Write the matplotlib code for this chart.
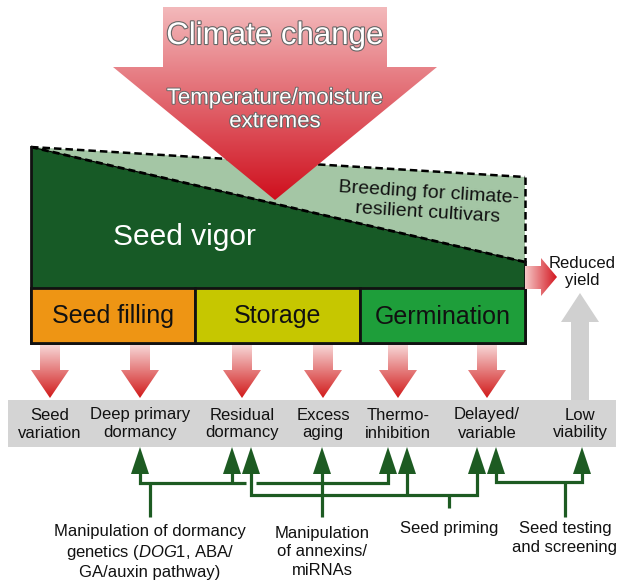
import numpy as np
import matplotlib
matplotlib.use("Agg")
import matplotlib.pyplot as plt
from matplotlib.patches import Polygon
from matplotlib.colors import to_rgba
import matplotlib.patheffects as pe

plt.rcParams['font.family'] = ['Liberation Sans', 'DejaVu Sans']
plt.rcParams['mathtext.fontset'] = 'custom'
plt.rcParams['mathtext.rm'] = 'Liberation Sans'
plt.rcParams['mathtext.it'] = 'Liberation Sans:italic'

# ---------------- content ----------------
title_main = "Climate change"
title_sub = "Temperature/moisture\nextremes"
vigor_label = "Seed vigor"
breeding_label = "Breeding for climate-\nresilient cultivars"
yield_label = "Reduced\nyield"
stages = ["Seed filling", "Storage", "Germination"]
stage_colors = ["#ee9514", "#c6c700", "#1e9e3a"]
outcomes = ["Seed\nvariation", "Deep primary\ndormancy", "Residual\ndormancy",
            "Excess\naging", "Thermo-\ninhibition", "Delayed/\nvariable", "Low\nviability"]
interventions = ["Manipulation of dormancy\ngenetics ($\\mathit{DOG1}$, ABA/\nGA/auxin pathway)",
                 "Manipulation\nof annexins/\nmiRNAs",
                 "Seed priming",
                 "Seed testing\nand screening"]

# ---------------- layout (pixels) ----------------
W, H = 627, 581
fig = plt.figure(figsize=(W / 100, H / 100), dpi=100)
ax = fig.add_axes([0, 0, 1, 1])

box_l, box_r = 31, 525
top_left_y, dash_right_y, green_right_y = 147, 177, 262
green_bot, stage_bot = 288, 343
stage_x = [31, 195, 360, 525]
outcome_x = [50, 140, 242, 323, 398, 487, 580]
band = (8, 616, 400, 447)

DARK = "#175a26"
LIGHT = "#a4c6a5"
LINE_G = "#1d5b22"


def grad_poly(verts, c0, c1, horizontal=False, z=3):
    poly = Polygon(verts, closed=True, facecolor='none', edgecolor='none', zorder=z)
    ax.add_patch(poly)
    xs = [v[0] for v in verts]
    ys = [v[1] for v in verts]
    a0, a1 = np.array(to_rgba(c0)), np.array(to_rgba(c1))
    t = np.linspace(0, 1, 256)
    cols = a0[None, :] * (1 - t[:, None]) + a1[None, :] * t[:, None]
    if horizontal:
        arr = cols[None, :, :]
    else:
        arr = cols[:, None, :]
    im = ax.imshow(arr, extent=[min(xs), max(xs), max(ys), min(ys)], origin='upper',
                   aspect='auto', zorder=z, interpolation='bilinear')
    im.set_clip_path(poly)


# green vigor region
ax.add_patch(Polygon([(box_l, top_left_y), (box_r, dash_right_y), (box_r, green_right_y)],
                     closed=True, facecolor=LIGHT, edgecolor='none', zorder=1))
ax.add_patch(Polygon([(box_l, top_left_y), (box_r, green_right_y), (box_r, green_bot), (box_l, green_bot)],
                     closed=True, facecolor=DARK, edgecolor='none', zorder=1))
ax.plot([box_l, box_r], [top_left_y, dash_right_y], color='black', lw=1.8, ls=(0, (3, 1.6)), zorder=2)
ax.plot([box_r, box_r], [dash_right_y, green_right_y], color='black', lw=1.8, ls=(0, (3, 1.6)), zorder=2)
ax.plot([box_l, box_r], [top_left_y, green_right_y], color='black', lw=0.8, zorder=2)
ax.plot([box_l, box_r], [top_left_y, green_right_y], color='black', lw=2.0, ls=(0, (2.5, 1.5)), zorder=2)
ax.plot([box_l, box_l, box_r, box_r], [top_left_y, stage_bot, stage_bot, green_right_y],
        color='#111111', lw=2.0, zorder=2, solid_joinstyle='miter')

# stage boxes
for i, (name, col) in enumerate(zip(stages, stage_colors)):
    x0, x1 = stage_x[i], stage_x[i + 1]
    ax.add_patch(Polygon([(x0, green_bot), (x1, green_bot), (x1, stage_bot), (x0, stage_bot)],
                         closed=True, facecolor=col, edgecolor='#111111', lw=2.0, zorder=2))
    ax.text((x0 + x1) / 2, (green_bot + stage_bot) / 2 + 1, name, ha='center', va='center',
            fontsize=18, color='#111111', zorder=5)

ax.text(184, 237, vigor_label, ha='center', va='center', fontsize=21.5, color='white', zorder=5)
ax.text(428, 203, breeding_label, ha='center', va='center', fontsize=14, color='#111111',
        rotation=-3.5, linespacing=1.25, zorder=5, rotation_mode='anchor')

# climate change arrow
cx = 275
grad_poly([(163, 7), (387, 7), (387, 67), (437, 67), (cx, 200), (113, 67), (163, 67)],
          "#f3b9bb", "#cf0f1d", z=4)
ax.text(cx, 36, title_main, ha='center', va='center', fontsize=22.5, color='white',
        path_effects=[pe.withStroke(linewidth=1.6, foreground='#666666')], zorder=6)
ax.text(cx, 110, title_sub, ha='center', va='center', fontsize=16, color='white',
        path_effects=[pe.withStroke(linewidth=1.4, foreground='#666666')], linespacing=1.15, zorder=6)

# reduced yield arrow
grad_poly([(525, 266), (541, 266), (541, 258), (557, 277), (541, 296), (541, 289), (525, 289)],
          "#f6c8c8", "#d3161f", horizontal=True, z=3)
ax.text(582, 272, yield_label, ha='center', va='center', fontsize=12, color='#111111',
        linespacing=1.2, zorder=5)

# grey band
ax.add_patch(Polygon([(band[0], band[2]), (band[1], band[2]), (band[1], band[3]), (band[0], band[3])],
                     closed=True, facecolor='#d4d4d4', edgecolor='none', zorder=1))
# grey up arrow
gx = outcome_x[6]
ax.add_patch(Polygon([(gx - 9, 400), (gx - 9, 322), (gx - 19, 322), (gx, 293), (gx + 19, 322),
                      (gx + 9, 322), (gx + 9, 400)], closed=True, facecolor='#d0d0d0',
                     edgecolor='none', zorder=1))

# red down arrows
for x in outcome_x[:6]:
    grad_poly([(x - 10, 345), (x + 10, 345), (x + 10, 370), (x + 19, 370), (x, 398),
               (x - 19, 370), (x - 10, 370)], "#f7d6d6", "#d11a1a", z=3)

for x, lab in zip(outcome_x, outcomes):
    ax.text(x, 424, lab, ha='center', va='center', fontsize=12, color='#111111',
            linespacing=1.25, zorder=5)

# intervention connectors
tip_y, base_y = 447, 473
arrow_targets = [140, 232, 251, 322, 388, 407, 477, 496, 582]
for x in arrow_targets:
    ax.add_patch(Polygon([(x - 9, base_y + 1), (x, tip_y), (x + 9, base_y + 1)], closed=True,
                         facecolor=LINE_G, edgecolor='none', zorder=4))

lw = 2.3
def seg(xs, ys):
    ax.plot(xs, ys, color=LINE_G, lw=lw, zorder=4, solid_capstyle='butt', solid_joinstyle='miter')

# group 1: dormancy genetics -> 140, 232, 388
seg([140, 140, 246], [base_y, 483, 483])
seg([232, 232], [base_y, 483])
seg([256, 388, 388], [483, 483, base_y])
seg([150, 150], [483, 517])
# group 2: annexins -> 322
seg([322, 322], [base_y, 517])
# group 3: priming -> 251, 407, 477
seg([251, 251, 477, 477], [base_y, 495, 495, base_y])
seg([407, 407], [base_y, 495])
seg([449, 449], [495, 508])
# group 4: testing -> 496, 582
seg([496, 496, 582, 582], [base_y, 482, 482, base_y])
seg([565, 565], [482, 517])

ax.text(150, 552, interventions[0], ha='center', va='center', fontsize=12, color='#111111',
        linespacing=1.3, zorder=5)
ax.text(322, 552, interventions[1], ha='center', va='center', fontsize=12, color='#111111',
        linespacing=1.3, zorder=5)
ax.text(449, 528, interventions[2], ha='center', va='center', fontsize=12, color='#111111', zorder=5)
ax.text(565, 538, interventions[3], ha='center', va='center', fontsize=12, color='#111111',
        linespacing=1.3, zorder=5)

ax.set_xlim(0, W)
ax.set_ylim(H, 0)
ax.axis('off')
fig.savefig("out.png", dpi=100, facecolor='white')
